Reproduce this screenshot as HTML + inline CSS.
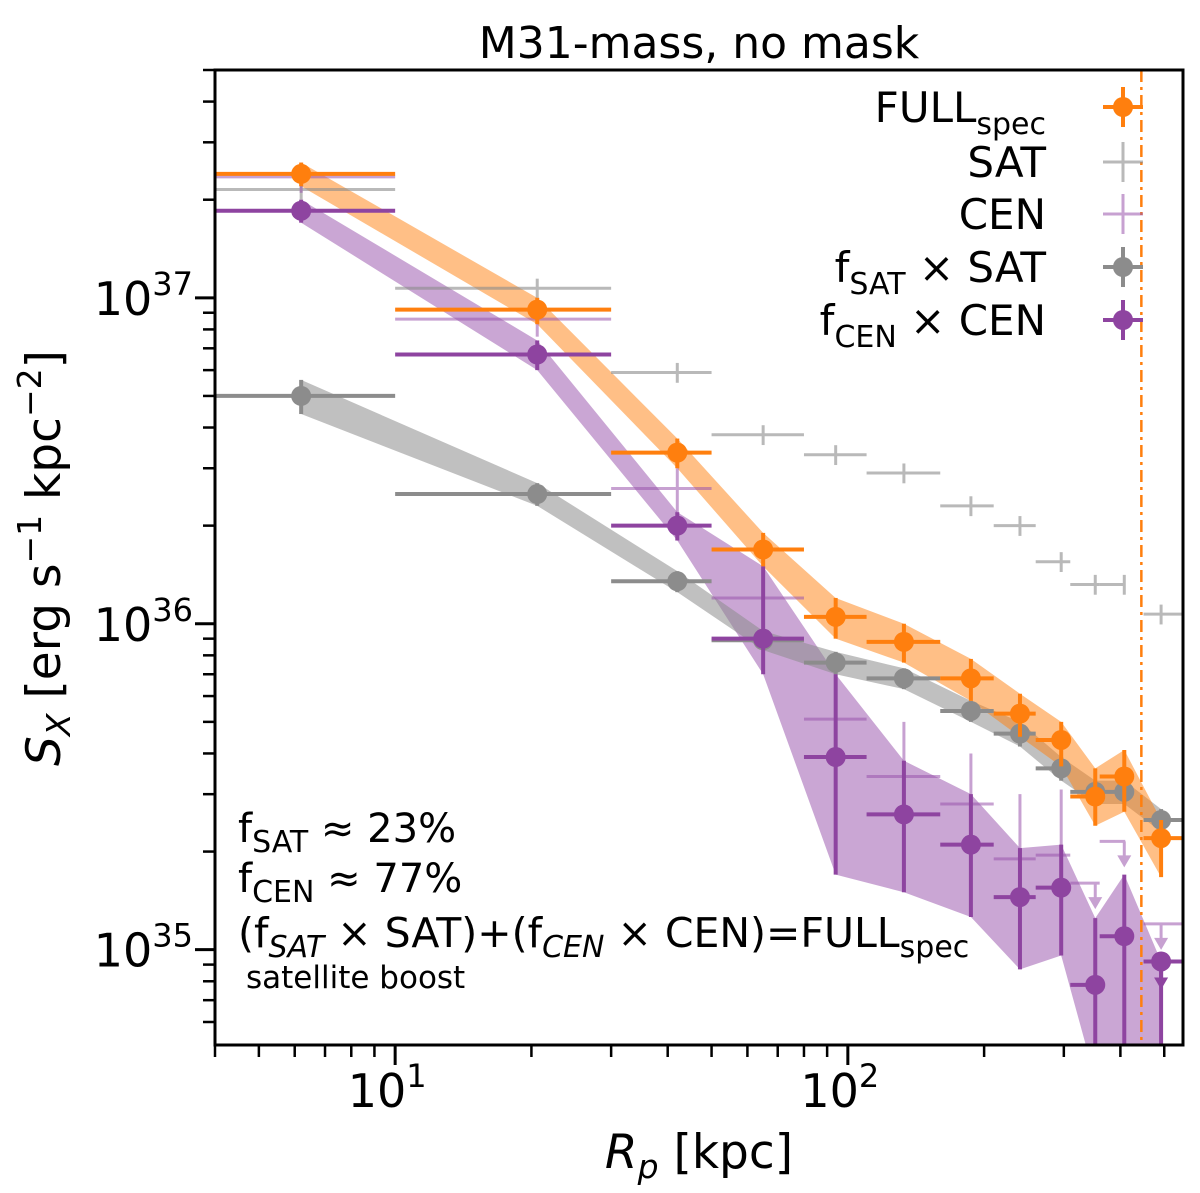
<!DOCTYPE html>
<html><head><meta charset="utf-8"><style>
html,body{margin:0;padding:0;background:#fff;}
svg{display:block;font-family:"DejaVu Sans","Liberation Sans",sans-serif;}
</style></head><body>
<svg id="chart" width="1200" height="1193" viewBox="0 0 1200 1193" xmlns="http://www.w3.org/2000/svg">
<text x="699" y="58" font-size="44" text-anchor="middle">M31-mass, no mask</text>
<g id="plot"></g>
</svg>
<script>
// ---- data ----
const radii   = [6.2, 20.6, 42, 65, 94, 133, 187, 240, 296, 352, 408, 492];
const binLo   = [4, 10, 30, 50, 80, 110, 160, 210, 260, 310, 360, 450];
const binHi   = [10, 30, 50, 80, 110, 160, 210, 260, 310, 360, 410, 550];
const fullVal = [2.4e37, 9.2e36, 3.35e36, 1.69e36, 1.05e36, 8.8e35, 6.8e35, 5.3e35, 4.4e35, 2.95e35, 3.4e35, 2.2e35];
const fullLo  = [2.2e37, 8.3e36, 3.0e36, 1.5e36, 9.0e35, 7.6e35, 5.8e35, 4.5e35, 3.65e35, 2.4e35, 2.65e35, 1.67e35];
const fullHi  = [2.6e37, 1.0e37, 3.7e36, 1.9e36, 1.2e36, 1.0e36, 7.8e35, 6.1e35, 5.0e35, 3.6e35, 4.1e35, 2.5e35];
const fsatVal = [5.0e36, 2.5e36, 1.35e36, 8.9e35, 7.6e35, 6.8e35, 5.4e35, 4.6e35, 3.6e35, 3.05e35, 3.05e35, 2.5e35];
const fsatLo  = [4.4e36, 2.3e36, 1.25e36, 8.3e35, 7.0e35, 6.3e35, 5.0e35, 4.2e35, 3.3e35, 2.8e35, 2.8e35, 2.3e35];
const fsatHi  = [5.6e36, 2.7e36, 1.45e36, 9.5e35, 8.2e35, 7.3e35, 5.8e35, 5.0e35, 3.9e35, 3.3e35, 3.3e35, 2.7e35];
const fcenVal = [1.85e37, 6.7e36, 2.0e36, 9.0e35, 3.9e35, 2.6e35, 2.1e35, 1.45e35, 1.55e35, 7.8e34, 1.1e35, 9.2e34];
const fcenLo  = [1.7e37, 6.0e36, 1.8e36, 7.0e35, 1.7e35, 1.5e35, 1.26e35, 8.7e34, 9.6e34, 4.0e34, 4.0e34, 4.0e34];
const fcenHi  = [2.0e37, 7.4e36, 2.2e36, 1.5e36, 7.0e35, 3.8e35, 3.0e35, 2.05e35, 2.1e35, 1.25e35, 1.7e35, 9.2e34];
const satVal  = [2.15e37, 1.07e37, 5.9e36, 3.8e36, 3.3e36, 2.9e36, 2.3e36, 2.0e36, 1.55e36, 1.32e36, 1.32e36, 1.07e36];
const cenVal  = [2.35e37, 8.6e36, 2.6e36, 1.2e36, 5.1e35, 3.4e35, 2.8e35, 1.9e35, 1.95e35, 1.6e35, 2.15e35, 1.2e35];
const cenLimit= [false, false, false, false, false, false, false, false, false, true, true, true];
const cenLo   = [2.1e37, 7.6e36, 2.2e36, 9.0e35, 3.0e35, 2.0e35, 1.7e35, 1.1e35, 1.1e35, 1.6e35, 2.15e35, 1.2e35];
const cenHi   = [2.6e37, 9.6e36, 3.0e36, 1.6e36, 8.0e35, 5.0e35, 4.0e35, 3.0e35, 3.1e35, 1.6e35, 2.15e35, 1.2e35];
const xTickVals = [10, 100];
const xTickLabels = ["10", "10"];
const xTickExp = ["1", "2"];
const yTickVals = [1e35, 1e36, 1e37];
const yTickExp = ["35", "36", "37"];
const rVir = 445;

// ---- axes ----
const L=215,R=1183,T=70,B=1045;
const xMin=Math.log10(4), xMax=Math.log10(550);
const yMin=Math.log10(5.1e34), yMax=Math.log10(5e37);
const X=v=>L+(Math.log10(v)-xMin)/(xMax-xMin)*(R-L);
const Y=v=>B-(Math.log10(Math.max(v,1e34))-yMin)/(yMax-yMin)*(B-T);
const NS="http://www.w3.org/2000/svg";
const g=document.getElementById('plot');
function mk(tag,attrs,parent){const e=document.createElementNS(NS,tag);for(const k in attrs)e.setAttribute(k,attrs[k]);(parent||g).appendChild(e);return e;}

const clip=mk('clipPath',{id:'pc'});mk('rect',{x:L,y:T,width:R-L,height:B-T},clip);
const data=mk('g',{'clip-path':'url(#pc)'});



function band(lo,hi,fill,name){
  let pts=radii.map((r,i)=>X(r)+','+Y(hi[i]));
  pts=pts.concat(radii.map((r,i)=>X(r)+','+Y(lo[i])).reverse());
  const p=mk('polygon',{points:pts.join(' '),fill:fill,stroke:'none'},data);
  
  
}
band(fcenLo,fcenHi,'rgba(145,70,165,0.48)','fcen-band');
band(fsatLo,fsatHi,'rgba(140,140,140,0.55)','fsat-band');
band(fullLo,fullHi,'rgba(255,127,14,0.5)','full-band');

function crosses(vals,lo,hi,color,width,opacity,name,limits){
  radii.forEach((r,i)=>{
    const grp=mk('g',{stroke:color,'stroke-width':width,opacity:opacity},data);
    
    
    mk('line',{x1:X(binLo[i]),x2:X(binHi[i]),y1:Y(vals[i]),y2:Y(vals[i])},grp);
    mk('line',{x1:X(r),x2:X(r),y1:Y(lo[i]),y2:Y(hi[i])},grp);
    if(limits&&limits[i]){
      const y0=Y(vals[i]), x0=X(r);
      mk('line',{x1:x0,x2:x0,y1:y0,y2:y0+20},grp);
      mk('polygon',{points:`${x0-7},${y0+14} ${x0+7},${y0+14} ${x0},${y0+26}`,fill:color,stroke:'none'},grp);
    }
  });
}
const satLo=satVal.map(v=>v*0.93), satHi=satVal.map(v=>v*1.07);
crosses(satVal,satLo,satHi,'#8c8c8c',3,0.6,'sat',null);
crosses(cenVal,cenLo,cenHi,'#9a55ad',3,0.55,'cen',cenLimit);

function dots(vals,lo,hi,color,name){
  crosses(vals,lo,hi,color,4,1,name,null);
  radii.forEach((r,i)=>{
    const c=mk('circle',{cx:X(r),cy:Y(vals[i]),r:10,fill:color},data);
    
    
  });
}
dots(fsatVal,fsatLo,fsatHi,'#8c8c8c','fsat');
dots(fcenVal,fcenLo,fcenHi,'#8e44a0','fcen');
dots(fullVal,fullLo,fullHi,'#ff7f0e','full');
{const x0=X(radii[11]),y0=Y(fcenVal[11]);
 const a=mk('g',{stroke:'#8e44a0','stroke-width':4},data);
 
 
 mk('line',{x1:x0,x2:x0,y1:y0,y2:y0+16},a);
 mk('polygon',{points:`${x0-7},${y0+16} ${x0+7},${y0+16} ${x0},${y0+28}`,fill:'#8e44a0',stroke:'none'},a);}

const vl=mk('line',{x1:X(rVir),x2:X(rVir),y1:T,y2:B,stroke:'#ff7f0e','stroke-width':2.5,'stroke-dasharray':'12,5,3,5'},data);



const fr=mk('rect',{x:L,y:T,width:R-L,height:B-T,fill:'none',stroke:'#000','stroke-width':3});



for(let d=1;d<=100;d*=10){for(let m=1;m<=9;m++){const v=m*d;if(v<4||v>550)continue;
  const major=(m===1);const t=mk('line',{x1:X(v),x2:X(v),y1:B,y2:B+(major?20:12),stroke:'#000','stroke-width':major?3:2.5});
  }}
xTickVals.forEach((v,i)=>{const t=mk('text',{x:X(v)-8,y:B+62,'font-size':46,'text-anchor':'middle'});
  
  t.innerHTML=xTickLabels[i]+'<tspan dy="-20" font-size="32">'+xTickExp[i]+'</tspan>';});
for(let d=1e34;d<=1e37;d*=10){for(let m=1;m<=9;m++){const v=m*d;if(v<5.1e34||v>5e37)continue;
  const major=(m===1);const t=mk('line',{x1:L,x2:L-(major?20:12),y1:Y(v),y2:Y(v),stroke:'#000','stroke-width':major?3:2.5});
  }}
yTickVals.forEach((v,i)=>{const t=mk('text',{x:L-22,y:Y(v)+17,'font-size':46,'text-anchor':'end'});
  
  t.innerHTML='10<tspan dy="-20" font-size="32">'+yTickExp[i]+'</tspan>';});

const xt=mk('text',{x:699,y:1168,'font-size':47,'text-anchor':'middle'});

xt.innerHTML='<tspan font-style="italic">R</tspan><tspan font-style="italic" font-size="33" dy="10">p</tspan><tspan dy="-10"> [kpc]</tspan>';
const yt=mk('text',{x:0,y:0,'font-size':47,'text-anchor':'middle',transform:'translate(60,558) rotate(-90)'});

yt.innerHTML='<tspan font-style="italic">S</tspan><tspan font-style="italic" font-size="33" dy="10">X</tspan><tspan dy="-10"> [erg s</tspan><tspan dy="-19" font-size="33">−1</tspan><tspan dy="19"> kpc</tspan><tspan dy="-19" font-size="33">−2</tspan><tspan dy="19">]</tspan>';

const legItems=[
 {y:107,html:'FULL<tspan font-size="30" dy="12">spec</tspan>',color:'#ff7f0e',dot:true,op:1,name:'legend-full'},
 {y:162,html:'SAT',color:'#8c8c8c',dot:false,op:0.6,name:'legend-sat'},
 {y:214,html:'CEN',color:'#9a55ad',dot:false,op:0.55,name:'legend-cen'},
 {y:267,html:'f<tspan font-size="30" dy="12">SAT</tspan><tspan dy="-12"> ×  SAT</tspan>',color:'#8c8c8c',dot:true,op:1,name:'legend-fsat'},
 {y:320,html:'f<tspan font-size="30" dy="12">CEN</tspan><tspan dy="-12"> ×  CEN</tspan>',color:'#8e44a0',dot:true,op:1,name:'legend-fcen'}];
legItems.forEach(it=>{
  const lg=mk('g',{});
  const t=mk('text',{x:1046,y:it.y+15,'font-size':42,'text-anchor':'end'},lg);t.innerHTML=it.html;
  const s=mk('g',{stroke:it.color,'stroke-width':it.dot?4:3,opacity:it.op},lg);
  mk('line',{x1:1103,x2:1143,y1:it.y,y2:it.y},s);mk('line',{x1:1123,x2:1123,y1:it.y-20,y2:it.y+20},s);
  if(it.dot)mk('circle',{cx:1123,cy:it.y,r:10,fill:it.color,stroke:'none'},lg);
});

const ann=[
 {y:842,html:'f<tspan font-size="30" dy="10">SAT</tspan><tspan dy="-10"> ≈ 23%</tspan>',fs:40,name:'fsat-annotation'},
 {y:892,html:'f<tspan font-size="30" dy="10">CEN</tspan><tspan dy="-10"> ≈ 77%</tspan>',fs:40,name:'fcen-annotation'},
 {y:947,html:'(f<tspan font-size="30" dy="10" font-style="italic">SAT</tspan><tspan dy="-10"> ×  SAT)+(f</tspan><tspan font-size="30" dy="10" font-style="italic">CEN</tspan><tspan dy="-10"> ×  CEN)=FULL</tspan><tspan font-size="30" dy="10">spec</tspan>',fs:41,name:'sum-annotation'},
 {y:988,html:'satellite boost',fs:31,name:'satellite-boost-label',x:246}];
ann.forEach(a=>{const t=mk('text',{x:a.x||238,y:a.y,'font-size':a.fs});
  t.innerHTML=a.html;});
</script>
</body></html>
